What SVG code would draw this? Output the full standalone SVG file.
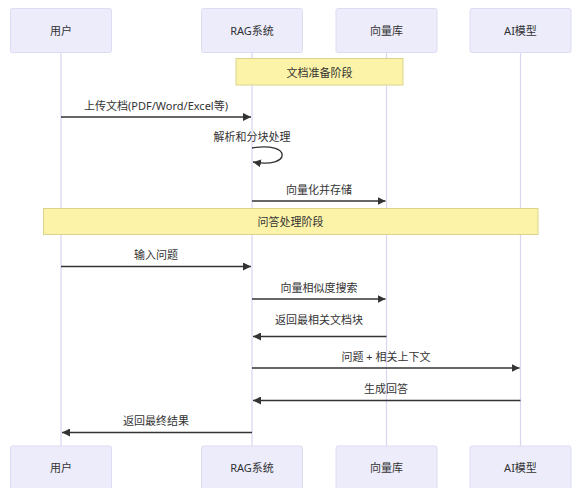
<svg xmlns="http://www.w3.org/2000/svg" width="579" height="488" viewBox="0 0 579 488">
<defs>
<style>
.actor{fill:#ececfb;stroke:#dddcf3;stroke-width:1}
.life{stroke:#d8d6f0;stroke-width:1.2;fill:none}
.note{fill:#fdf3a8;stroke:#d9d38c;stroke-width:1}
.msg{stroke:#333;stroke-width:1.3;fill:none}
text{font-family:"Noto Sans","Noto Sans CJK SC",sans-serif;font-size:11px;fill:#333;text-anchor:middle;dominant-baseline:central}
</style>
<marker id="ah" viewBox="0 0 10 10" refX="10" refY="5" markerWidth="8" markerHeight="8" markerUnits="userSpaceOnUse" orient="auto">
<path d="M0,0 L10,5 L0,10 z" fill="#333"/>
</marker>
</defs>
<g id="lifelines">
<line class="life" x1="61" y1="52" x2="61" y2="446"/>
<line class="life" x1="252" y1="52" x2="252" y2="446"/>
<line class="life" x1="386.5" y1="52" x2="386.5" y2="446"/>
<line class="life" x1="520.5" y1="52" x2="520.5" y2="446"/>
</g>
<g id="actor-user-top"><rect class="actor" x="10.5" y="8.5" width="101" height="44" rx="2"/><text x="61" y="30.5">用户</text></g>
<g id="actor-rag-top"><rect class="actor" x="201.5" y="8.5" width="101" height="44" rx="2"/><text x="252" y="30.5">RAG系统</text></g>
<g id="actor-vdb-top"><rect class="actor" x="336" y="8.5" width="101" height="44" rx="2"/><text x="386.5" y="30.5">向量库</text></g>
<g id="actor-ai-top"><rect class="actor" x="470" y="8.5" width="101" height="44" rx="2"/><text x="520.5" y="30.5">AI模型</text></g>
<g id="note-prep"><rect class="note" x="236" y="58.5" width="167" height="26.5"/><text x="319.5" y="72">文档准备阶段</text></g>
<g id="note-qa"><rect class="note" x="43.5" y="208.5" width="494.5" height="26"/><text x="290.5" y="221.5">问答处理阶段</text></g>
<g id="connectors">
<line class="msg" x1="61" y1="117" x2="251" y2="117" marker-end="url(#ah)"/>
<path class="msg" d="M252,148 C292,141 292,169 253,162" marker-end="url(#ah)"/>
<line class="msg" x1="252" y1="201" x2="385.5" y2="201" marker-end="url(#ah)"/>
<line class="msg" x1="61" y1="266.5" x2="251" y2="266.5" marker-end="url(#ah)"/>
<line class="msg" x1="252" y1="299" x2="385.5" y2="299" marker-end="url(#ah)"/>
<line class="msg" x1="386.5" y1="336.5" x2="253" y2="336.5" marker-end="url(#ah)"/>
<line class="msg" x1="252" y1="368" x2="519.5" y2="368" marker-end="url(#ah)"/>
<line class="msg" x1="520.5" y1="400.5" x2="253" y2="400.5" marker-end="url(#ah)"/>
<line class="msg" x1="252" y1="432.5" x2="62" y2="432.5" marker-end="url(#ah)"/>
</g>
<g id="labels">
<text x="156" y="105">上传文档(PDF/Word/Excel等)</text>
<text x="252" y="136">解析和分块处理</text>
<text x="319" y="189">向量化并存储</text>
<text x="156" y="254">输入问题</text>
<text x="319" y="287">向量相似度搜索</text>
<text x="319" y="319.5">返回最相关文档块</text>
<text x="386" y="356">问题 + 相关上下文</text>
<text x="386" y="388">生成回答</text>
<text x="156" y="420">返回最终结果</text>
</g>
<g id="actor-user-bottom"><rect class="actor" x="10.5" y="446" width="101" height="44" rx="2"/><text x="61" y="467.5">用户</text></g>
<g id="actor-rag-bottom"><rect class="actor" x="201.5" y="446" width="101" height="44" rx="2"/><text x="252" y="467.5">RAG系统</text></g>
<g id="actor-vdb-bottom"><rect class="actor" x="336" y="446" width="101" height="44" rx="2"/><text x="386.5" y="467.5">向量库</text></g>
<g id="actor-ai-bottom"><rect class="actor" x="470" y="446" width="101" height="44" rx="2"/><text x="520.5" y="467.5">AI模型</text></g>
</svg>
